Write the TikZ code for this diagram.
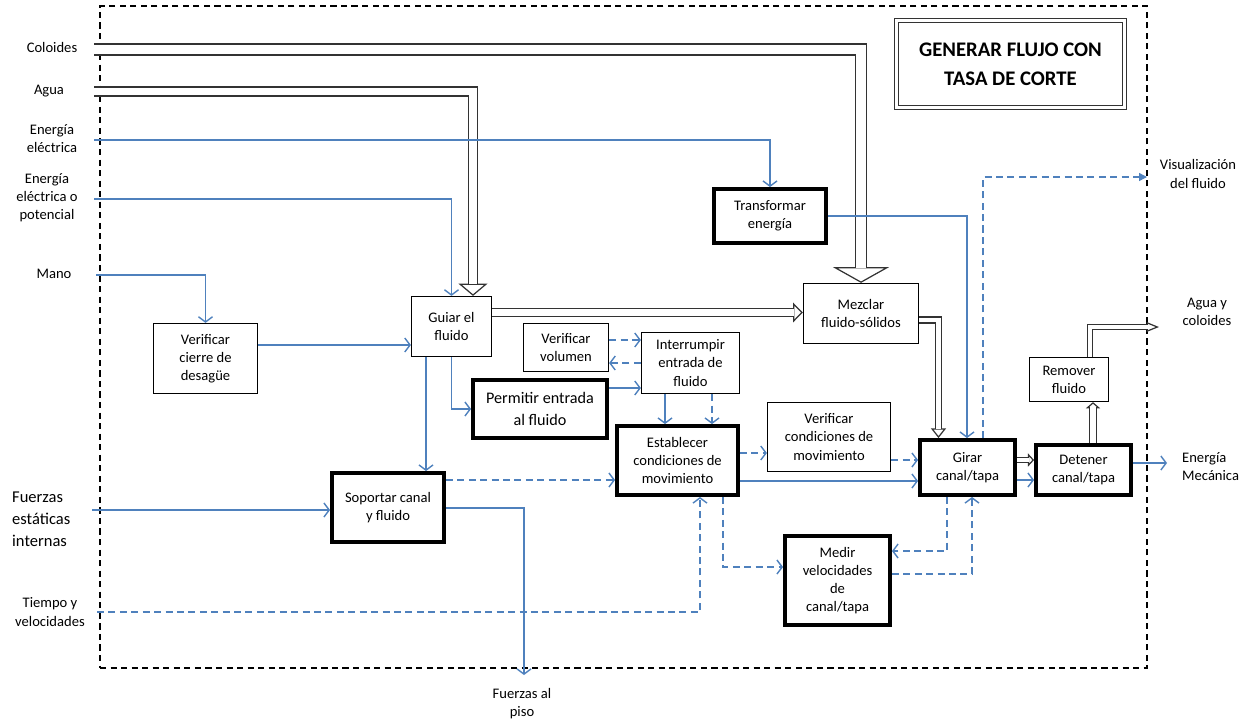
\documentclass[tikz,border=0pt]{standalone}
\usepackage{fontspec}
\setmainfont{Carlito}
\usetikzlibrary{arrows.meta,calc}
\definecolor{flowblue}{RGB}{79,129,189}
\newlength{\unitpx}
\setlength{\unitpx}{0.02cm}
\begin{document}
\begin{tikzpicture}[
  x=0.02cm, y=-0.02cm,
  every node/.style={font=\fontsize{8.3}{10.3}\selectfont, align=center},
  funcbox/.style={draw, line width=0.7pt, inner sep=1pt},
  mainfunc/.style={funcbox, line width=2.2pt},
  titlebox/.style={draw=black!80, double, double distance=1.5pt, line width=0.8pt, font=\fontsize{11.8}{16.5}\selectfont\bfseries},
  boundary/.style={draw, dash pattern=on 3.5pt off 2.5pt, line width=0.7pt},
  flow/.style={draw=flowblue, line width=0.8pt, -{Straight Barb[length=3pt,width=8pt]}},
  signal/.style={flow, dash pattern=on 4pt off 2.5pt},
  hollow/.style={draw=black!80, line width=0.7pt, double=white, double distance=#1},
  hollow tip/.style 2 args={draw=black!80, line width=0.7pt, -{Triangle[open,fill=white,width=#1,length=#2]}}
]
\useasboundingbox (0,0) rectangle (1251,721);
% Define the nodes
\node[boundary, minimum width=1047\unitpx, minimum height=662\unitpx] (system) at (623.5,337) {};
\node[titlebox, minimum width=228\unitpx, minimum height=87\unitpx] (title) at (1010.5,64) {GENERAR FLUJO CON\\TASA DE CORTE};
\node[funcbox, minimum width=104\unitpx, minimum height=70\unitpx] (cierre) at (205.5,358.5) {Verificar\\cierre de\\desagüe};
\node[funcbox, minimum width=80\unitpx, minimum height=60\unitpx] (guiar) at (451.5,326.5) {Guiar el\\fluido};
\node[funcbox, minimum width=85\unitpx, minimum height=48\unitpx] (volumen) at (566,347.5) {Verificar\\volumen};
\node[funcbox, minimum width=98\unitpx, minimum height=61\unitpx] (interrumpir) at (690.5,363) {Interrumpir\\entrada de\\fluido};
\node[mainfunc, minimum width=134\unitpx, minimum height=58\unitpx, font=\fontsize{9.2}{12.4}\selectfont] (permitir) at (540,409) {Permitir entrada\\al fluido};
\node[mainfunc, minimum width=121\unitpx, minimum height=69\unitpx] (establecer) at (677.5,460.5) {Establecer\\condiciones de\\movimiento};
\node[mainfunc, minimum width=112\unitpx, minimum height=69\unitpx] (soportar) at (388,507.5) {Soportar canal\\y fluido};
\node[funcbox, minimum width=123\unitpx, minimum height=69\unitpx] (vercond) at (829,437) {Verificar\\condiciones de\\movimiento};
\node[mainfunc, minimum width=105\unitpx, minimum height=89\unitpx] (medir) at (837.5,580.5) {Medir\\velocidades\\de\\canal/tapa};
\node[mainfunc, minimum width=112\unitpx, minimum height=54\unitpx] (transformar) at (770,216) {Transformar\\energía};
\node[funcbox, minimum width=115\unitpx, minimum height=60\unitpx] (mezclar) at (861,313.5) {Mezclar\\fluido-sólidos};
\node[mainfunc, minimum width=95\unitpx, minimum height=55\unitpx] (girar) at (967.5,467.5) {Girar\\canal/tapa};
\node[mainfunc, minimum width=95\unitpx, minimum height=50\unitpx] (detener) at (1083.5,470) {Detener\\canal/tapa};
\node[funcbox, minimum width=79\unitpx, minimum height=44\unitpx] (remover) at (1069,379.5) {Remover\\fluido};
% inputs and outputs
\node (coloides) at (52,47) {Coloides};
\node (agua) at (49,91) {Agua};
\node (eelec) at (52,139) {Energía\\eléctrica};
\node (epot) at (47,198) {Energía\\eléctrica o\\potencial};
\node (mano) at (54,274) {Mano};
\node[anchor=west, align=left, font=\fontsize{9.4}{12.4}\selectfont] (fuerzas) at (6,519) {Fuerzas\\estáticas\\internas};
\node (tiempo) at (50,612) {Tiempo y\\velocidades};
\node (piso) at (522,704) {Fuerzas al\\piso};
\node (visual) at (1198,174) {Visualización\\del fluido};
\node (aguacoloides) at (1207,312) {Agua y\\coloides};
\node[anchor=west, align=left] (emec) at (1176,467) {Energía\\Mecánica};
\coordinate (coloidesin) at (94,49.5);
\coordinate (aguain) at (94,91.5);
\coordinate (eelecin) at (94,140);
\coordinate (epotin) at (94,199);
\coordinate (manoin) at (96,275);
\coordinate (fuerzasin) at (92,510);
\coordinate (tiempoin) at (97,612);
\coordinate (visualout) at (1147,177);
\coordinate (aguaout) at (1159,327);
\coordinate (emecout) at (1167,463);
\coordinate (pisoout) at (524,675);
% Define the edges
% material flows
\draw[hollow tip={32pt}{9pt}] ($(mezclar.north)+(0,-16)$) -- (mezclar.north);
\draw[hollow=5.5pt] (coloidesin) -| ($(mezclar.north)+(0,-15)$);
\draw[hollow tip={16.5pt}{7pt}] ($(guiar.north)+(21.5,-13)$) -- ($(guiar.north)+(21.5,0)$);
\draw[hollow=4.5pt] (aguain) -| ($(guiar.north)+(21.5,-12)$);
\draw[hollow tip={11pt}{5.5pt}] ($(mezclar.west |- 0,312.5)+(-10,0)$) -- (mezclar.west |- 0,312.5);
\draw[hollow=3.6pt] (guiar.east |- 0,312.5) -- ($(mezclar.west |- 0,312.5)+(-9,0)$);
\draw[hollow tip={8.5pt}{5.5pt}] ($(938.5,0 |- girar.north)+(0,-10)$) -- (938.5,0 |- girar.north);
\draw[hollow=2.6pt] (mezclar.east |- 0,320) -| ($(938.5,0 |- girar.north)+(0,-9)$);
\draw[hollow tip={7.5pt}{3.5pt}] ($(detener.west |- 0,460)+(-6,0)$) -- (detener.west |- 0,460);
\draw[hollow=2.2pt] (girar.east |- 0,460) -- ($(detener.west |- 0,460)+(-5,0)$);
\draw[hollow tip={8pt}{3.5pt}] ($(1093,0 |- remover.south)+(0,6)$) -- (1093,0 |- remover.south);
\draw[hollow=3pt] (1093,0 |- detener.north) -- ($(1093,0 |- remover.south)+(0,5)$);
\draw[hollow tip={5.5pt}{7pt}] ($(aguaout)+(-12,0)$) -- (aguaout);
\draw[hollow=2.2pt] (1090,0 |- remover.north) |- ($(aguaout)+(-11,0)$);
% energy and signal flows
\draw[flow] (eelecin) -| (transformar.north);
\draw[flow] (epotin) -| (guiar.north);
\draw[flow] (manoin) -| (cierre.north);
\draw[flow] (cierre.east |- 0,345) -- (guiar.west |- 0,345);
\draw[flow] (guiar.south) |- (permitir.west);
\draw[flow] (426,0 |- guiar.south) -- (426,0 |- soportar.north);
\draw[signal] (volumen.east |- 0,340) -- (interrumpir.west |- 0,340);
\draw[signal] (interrumpir.west |- 0,363) -- (volumen.east |- 0,363);
\draw[flow] (permitir.east |- 0,388) -- (interrumpir.west |- 0,388);
\draw[flow] (665,0 |- interrumpir.south) -- (665,0 |- establecer.north);
\draw[signal] (712,0 |- interrumpir.south) -- (712,0 |- establecer.north);
\draw[signal] (soportar.east |- 0,480) -- (establecer.west |- 0,480);
\draw[flow] (soportar.east |- 0,508) -| (pisoout);
\draw[flow] (fuerzasin) -- (soportar.west |- fuerzasin);
\draw[signal] (tiempoin) -| (700,0 |- establecer.south);
\draw[signal] (establecer.east |- 0,453) -- (vercond.west |- 0,453);
\draw[flow] (establecer.east |- 0,481) -- (girar.west |- 0,481);
\draw[signal] (723,0 |- establecer.south) |- (medir.west |- 0,567);
\draw[signal] (vercond.east |- 0,460) -- (girar.west |- 0,460);
\draw[flow] (transformar.east) -| (967,0 |- girar.north);
\draw[signal, -{Triangle[length=4.5pt,width=4.5pt]}] (983,0 |- girar.north) |- (visualout);
\draw[signal] (947,0 |- girar.south) |- (medir.east |- 0,551);
\draw[signal] (medir.east |- 0,574) -| (972,0 |- girar.south);
\draw[flow] (girar.east |- 0,480) -- (detener.west |- 0,480);
\draw[flow] (detener.east |- 0,463) -- (emecout);
\end{tikzpicture}
\end{document}
